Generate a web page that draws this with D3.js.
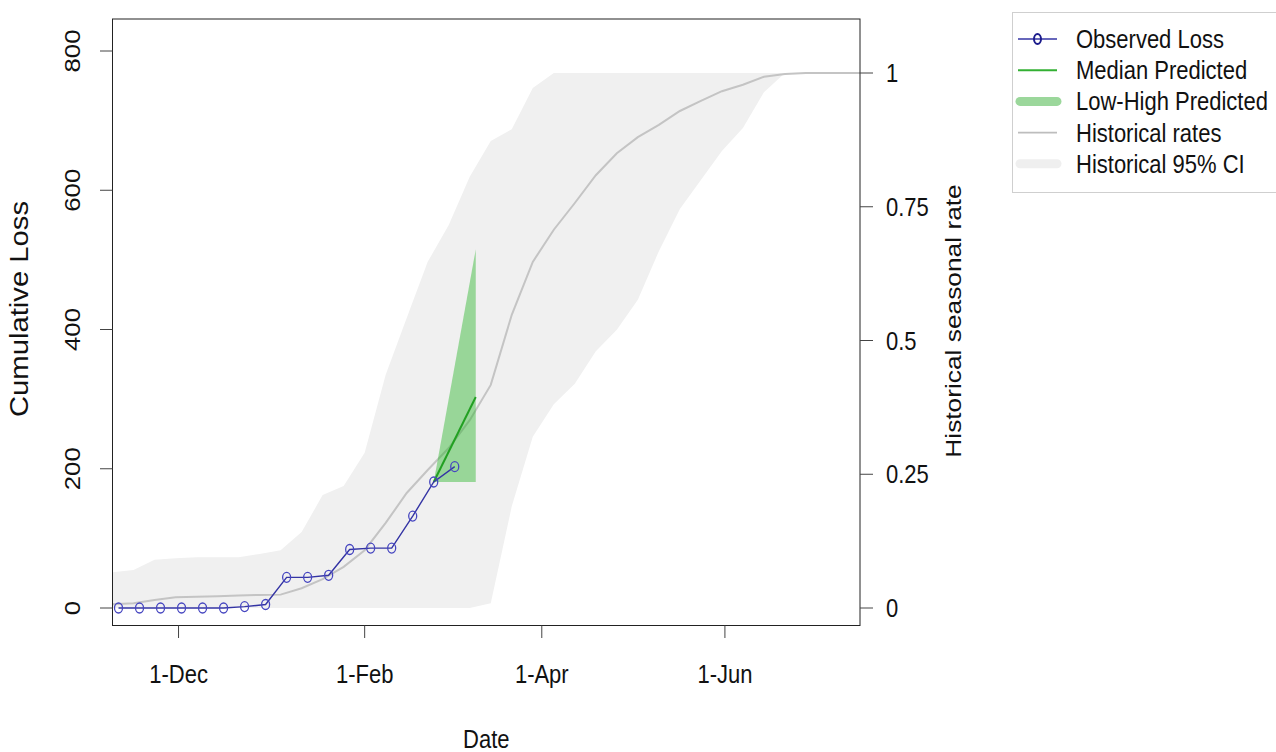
<!DOCTYPE html>
<html>
<head>
<meta charset="utf-8">
<script src="https://cdn.jsdelivr.net/npm/d3@7"></script>
<style>
  html, body { margin: 0; padding: 0; background: #fff; }
  svg { display: block; font-family: "Liberation Sans", Arial, sans-serif; }
</style>
</head>
<body>
<div id="chart"></div>
<script>
// observed cumulative loss, weekly from 11 Nov 2018
const obsStart = new Date(2018, 10, 11);
const obsLoss = [0, 0, 0, 0, 0, 0, 2, 5, 44, 44, 47, 84, 86, 86, 132, 181, 203];

// prediction (last observation -> two weeks ahead)
const predDates = [new Date(2019, 1, 24), new Date(2019, 2, 10)];
const predMedian = [181, 303];
const predLow = [181, 181];
const predHigh = [181, 515];

// historical seasonal rate, weekly from 9 Nov 2018
const histStart = new Date(2018, 10, 9);
const histRate = [0.007, 0.009, 0.015, 0.020, 0.021, 0.022, 0.0235, 0.0245, 0.025, 0.037,
  0.054, 0.077, 0.108, 0.159, 0.215, 0.258, 0.299, 0.351, 0.417, 0.548,
  0.647, 0.707, 0.757, 0.809, 0.850, 0.880, 0.903, 0.929, 0.948, 0.966,
  0.978, 0.993, 0.998, 1, 1, 1, 1];
const histLow = [0, 0, 0, 0, 0, 0, 0, 0, 0, 0,
  0, 0, 0, 0, 0, 0, 0, 0, 0.009, 0.19,
  0.32, 0.381, 0.419, 0.48, 0.52, 0.576, 0.667, 0.746, 0.8, 0.854,
  0.897, 0.964, 1, 1, 1, 1, 1];
const histHigh = [0.067, 0.071, 0.090, 0.093, 0.095, 0.095, 0.095, 0.101, 0.108, 0.142,
  0.211, 0.228, 0.29, 0.436, 0.542, 0.647, 0.716, 0.806, 0.873, 0.895,
  0.972, 1, 1, 1, 1, 1, 1, 1, 1, 1,
  1, 1, 1, 1, 1, 1, 1];

const xTickDates = [new Date(2018, 11, 1), new Date(2019, 1, 1), new Date(2019, 3, 1), new Date(2019, 5, 1)];
const xTickLabels = ["1-Dec", "1-Feb", "1-Apr", "1-Jun"];
const yTicks = [0, 200, 400, 600, 800];
const y2Ticks = [0, 0.25, 0.5, 0.75, 1];
const y2Labels = ["0", "0.25", "0.5", "0.75", "1"];

const legendItems = ["Observed Loss", "Median Predicted", "Low-High Predicted", "Historical rates", "Historical 95% CI"];

const width = 1276, height = 752;
const plot = { left: 112.5, right: 860, top: 19, bottom: 625.5 };
const SY = 1.17;   // text looks stretched vertically in the original
const FS = 22;

const addWeeks = (d, k) => d3.timeDay.offset(d, 7 * k);
const obs = obsLoss.map((v, i) => ({ date: addWeeks(obsStart, i), v }));
const hist = histRate.map((v, i) => ({ date: addWeeks(histStart, i), v, lo: histLow[i], hi: histHigh[i] }));
const pred = predDates.map((d, i) => ({ date: d, med: predMedian[i], lo: predLow[i], hi: predHigh[i] }));

const x = d3.scaleTime()
  .domain([new Date(2018, 10, 9), new Date(2019, 6, 16)])
  .range([112.5, 860]);
const y = d3.scaleLinear().domain([0, 800]).range([608, 51]);
const y2 = d3.scaleLinear().domain([0, 1]).range([608, 73]);

const svg = d3.select("#chart").append("svg")
  .attr("width", width)
  .attr("height", height);

svg.append("defs").append("clipPath").attr("id", "clip")
  .append("rect")
  .attr("x", plot.left).attr("y", plot.top)
  .attr("width", plot.right - plot.left).attr("height", plot.bottom - plot.top);

function label(txt, px, py, opts = {}) {
  const rot = opts.rotate ? " rotate(-90)" : "";
  return svg.append("text")
    .attr("transform", `translate(${px},${py}) scale(1,${SY})${rot}`)
    .attr("text-anchor", opts.anchor || "middle")
    .attr("font-size", opts.size || FS)
    .attr("fill", "#111")
    .text(txt);
}

const g = svg.append("g").attr("clip-path", "url(#clip)");

// historical CI band
g.append("path")
  .datum(hist)
  .attr("fill", "#f0f0f0")
  .attr("d", d3.area().x(d => x(d.date)).y0(d => y2(d.lo)).y1(d => y2(d.hi)));

// historical rate line
g.append("path")
  .datum(hist)
  .attr("fill", "none")
  .attr("stroke", "#c4c4c4")
  .attr("stroke-width", 2)
  .attr("d", d3.line().x(d => x(d.date)).y(d => y2(d.v)));

// low-high predicted
g.append("path")
  .datum(pred)
  .attr("fill", "#2db52d")
  .attr("fill-opacity", 0.45)
  .attr("d", d3.area().x(d => x(d.date)).y0(d => y(d.lo)).y1(d => y(d.hi)));

// median predicted
g.append("path")
  .datum(pred)
  .attr("fill", "none")
  .attr("stroke", "#22a022")
  .attr("stroke-width", 2)
  .attr("d", d3.line().x(d => x(d.date)).y(d => y(d.med)));

// observed
g.append("path")
  .datum(obs)
  .attr("fill", "none")
  .attr("stroke", "#3434a4")
  .attr("stroke-width", 1.4)
  .attr("d", d3.line().x(d => x(d.date)).y(d => y(d.v)));

g.selectAll("ellipse.obs")
  .data(obs)
  .join("ellipse")
  .attr("class", "obs")
  .attr("cx", d => x(d.date))
  .attr("cy", d => y(d.v))
  .attr("rx", 4)
  .attr("ry", 5)
  .attr("fill", "none")
  .attr("stroke", "#4646c0")
  .attr("stroke-width", 1.3);

// box
svg.append("rect")
  .attr("x", plot.left).attr("y", plot.top)
  .attr("width", plot.right - plot.left).attr("height", plot.bottom - plot.top)
  .attr("fill", "none")
  .attr("stroke", "#222")
  .attr("stroke-width", 1);

// left axis
yTicks.forEach(t => {
  svg.append("line")
    .attr("x1", plot.left).attr("x2", 100)
    .attr("y1", y(t)).attr("y2", y(t))
    .attr("stroke", "#444");
  label(String(t), 80, y(t), { rotate: true });
});

// right axis
y2Ticks.forEach((t, i) => {
  svg.append("line")
    .attr("x1", plot.right).attr("x2", 873)
    .attr("y1", y2(t)).attr("y2", y2(t))
    .attr("stroke", "#444");
  label(y2Labels[i], 886, y2(t) + 9, { anchor: "start" });
});

// bottom axis
xTickDates.forEach((d, i) => {
  svg.append("line")
    .attr("x1", x(d)).attr("x2", x(d))
    .attr("y1", plot.bottom).attr("y2", 638)
    .attr("stroke", "#444");
  label(xTickLabels[i], x(d), 683);
});

// axis titles
label("Date", (plot.left + plot.right) / 2, 748);
label("Cumulative Loss", 28, 309, { rotate: true, size: 25 });
label("Historical seasonal rate", 961, 321, { rotate: true, size: 22.5 });

// legend
const lg = svg.append("g");
lg.append("rect")
  .attr("x", 1012.5).attr("y", 12.5)
  .attr("width", 290).attr("height", 180)
  .attr("fill", "#fff")
  .attr("stroke", "#cfcfcf");

const rowY = i => 39 + 31.2 * i;
const sx0 = 1018, sx1 = 1057, tx = 1076;

lg.append("line").attr("x1", sx0).attr("x2", sx1).attr("y1", rowY(0)).attr("y2", rowY(0))
  .attr("stroke", "#3434a4").attr("stroke-width", 1.4);
lg.append("ellipse").attr("cx", (sx0 + sx1) / 2).attr("cy", rowY(0)).attr("rx", 3.5).attr("ry", 5)
  .attr("fill", "none").attr("stroke", "#1c1c8c").attr("stroke-width", 2);

lg.append("line").attr("x1", sx0).attr("x2", sx1).attr("y1", rowY(1)).attr("y2", rowY(1))
  .attr("stroke", "#33b033").attr("stroke-width", 2);

lg.append("line").attr("x1", sx0 + 2).attr("x2", sx1).attr("y1", rowY(2)).attr("y2", rowY(2))
  .attr("stroke", "#9bd79b").attr("stroke-width", 9).attr("stroke-linecap", "round");

lg.append("line").attr("x1", sx0).attr("x2", sx1).attr("y1", rowY(3)).attr("y2", rowY(3))
  .attr("stroke", "#bdbdbd").attr("stroke-width", 1.6);

lg.append("line").attr("x1", sx0 + 2).attr("x2", sx1).attr("y1", rowY(4)).attr("y2", rowY(4))
  .attr("stroke", "#efefef").attr("stroke-width", 9).attr("stroke-linecap", "round");

legendItems.forEach((t, i) => label(t, tx, rowY(i) + 9, { anchor: "start" }));
</script>
</body>
</html>
